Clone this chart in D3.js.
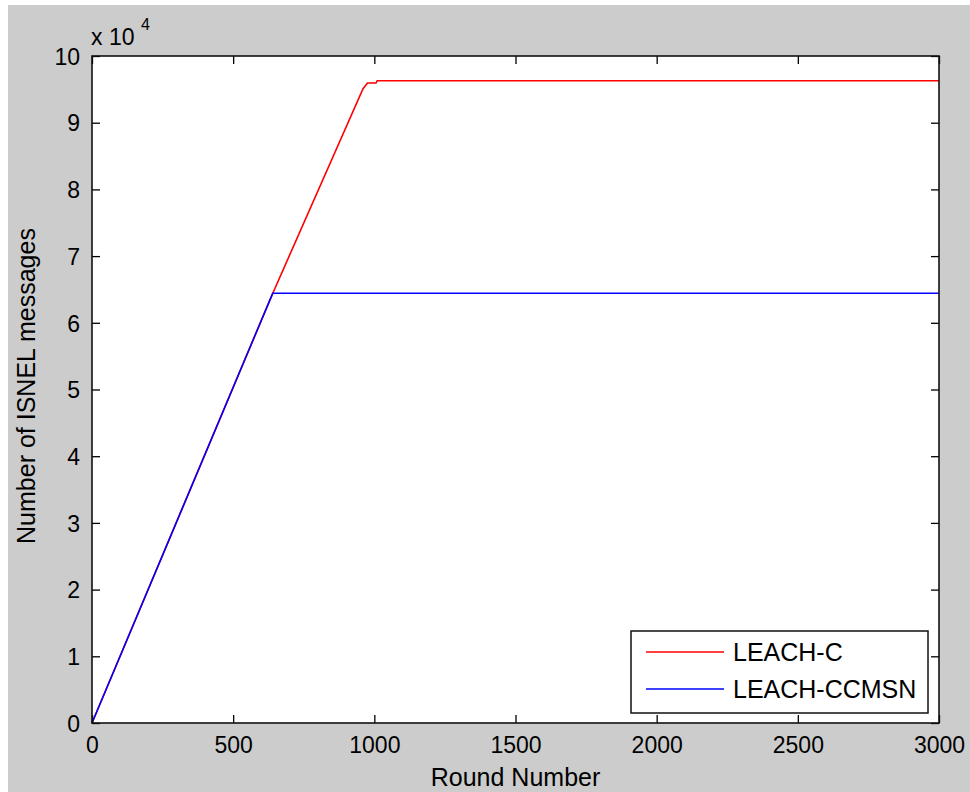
<!DOCTYPE html>
<html>
<head>
<meta charset="utf-8">
<script src="https://cdn.jsdelivr.net/npm/d3@7"></script>
<style>
html,body{margin:0;padding:0;background:#fff;}
svg{display:block;}
text{font-family:"Liberation Sans",Arial,sans-serif;fill:#000;}
</style>
</head>
<body>
<svg id="chart" width="970" height="792"></svg>
<script>
// ---- data ----
const seriesNames = ["LEACH-C", "LEACH-CCMSN"];
const seriesColors = ["#ff0000", "#0000ff"];
const leachCRounds = [0, 640, 960, 976, 1006, 1010, 3000];
const leachCValues = [0, 64400, 95100, 95950, 95950, 96300, 96300];
const ccmsnRounds = [0, 640, 3000];
const ccmsnValues = [0, 64420, 64420];
const xTicks = [0, 500, 1000, 1500, 2000, 2500, 3000];
const yTicks = [0, 10000, 20000, 30000, 40000, 50000, 60000, 70000, 80000, 90000, 100000];
const xLabel = "Round Number";
const yLabel = "Number of ISNEL messages";

const svg = d3.select("#chart");
// figure background (MATLAB grey)
svg.append("rect").attr("x", 8).attr("y", 5).attr("width", 962).attr("height", 787).attr("fill", "#cccccc");

const L = 92, R = 939, T = 56, B = 723;
const x = d3.scaleLinear().domain([0, 3000]).range([L, R]);
const y = d3.scaleLinear().domain([0, 100000]).range([B, T]);

svg.append("rect").attr("x", L).attr("y", T).attr("width", R - L).attr("height", B - T).attr("fill", "#fff");

// data lines
const series = [
  leachCRounds.map((r, i) => [r, leachCValues[i]]),
  ccmsnRounds.map((r, i) => [r, ccmsnValues[i]])
];
const line = d3.line().x(d => x(d[0])).y(d => y(d[1]));
series.forEach((s, i) => {
  svg.append("path").datum(s).attr("d", line).attr("fill", "none")
    .attr("stroke", seriesColors[i]).attr("stroke-width", 1.6);
});

// axes (ticks inward, on all four sides)
const tickLen = 8;
const fmtY = d => String(d / 10000);
const fmtX = d => String(d);
const gB = svg.append("g").attr("transform", `translate(0,${B})`)
  .call(d3.axisBottom(x).tickValues(xTicks).tickFormat(fmtX).tickSizeInner(-tickLen).tickSizeOuter(0).tickPadding(14));
const gT = svg.append("g").attr("transform", `translate(0,${T})`)
  .call(d3.axisTop(x).tickValues(xTicks).tickSizeInner(-tickLen).tickSizeOuter(0).tickFormat(""));
const gL = svg.append("g").attr("transform", `translate(${L},0)`)
  .call(d3.axisLeft(y).tickValues(yTicks).tickFormat(fmtY).tickSizeInner(-tickLen).tickSizeOuter(0).tickPadding(12));
const gR = svg.append("g").attr("transform", `translate(${R},0)`)
  .call(d3.axisRight(y).tickValues(yTicks).tickSizeInner(-tickLen).tickSizeOuter(0).tickFormat(""));
[gB, gT, gL, gR].forEach(g => {
  g.select(".domain").remove();
  g.selectAll(".tick line").attr("stroke", "#000").attr("stroke-width", 1.3);
  g.selectAll("text").attr("font-size", 23).attr("font-family", "Liberation Sans, Arial, sans-serif").attr("fill", "#000");
});
gB.selectAll("text").attr("dy", "0.71em");
gL.selectAll("text").attr("dy", "0.36em");

// box
svg.append("rect").attr("x", L).attr("y", T).attr("width", R - L).attr("height", B - T)
  .attr("fill", "none").attr("stroke", "#111").attr("stroke-width", 1.6);

// exponent label
svg.append("text").attr("x", 91).attr("y", 45).attr("font-size", 23).text("x 10");
svg.append("text").attr("x", 141).attr("y", 30).attr("font-size", 16).text("4");

// axis labels
svg.append("text").attr("x", (L + R) / 2).attr("y", 786).attr("text-anchor", "middle")
  .attr("font-size", 25).text(xLabel);
svg.append("text").attr("transform", `translate(35,386) rotate(-90)`).attr("text-anchor", "middle")
  .attr("font-size", 25).text(yLabel);

// legend
const lg = svg.append("g");
lg.append("rect").attr("x", 631).attr("y", 631).attr("width", 297).attr("height", 82)
  .attr("fill", "#fff").attr("stroke", "#111").attr("stroke-width", 1.5);
const legY = [652, 689];
seriesNames.forEach((n, i) => {
  lg.append("line").attr("x1", 646).attr("x2", 724).attr("y1", legY[i]).attr("y2", legY[i])
    .attr("stroke", seriesColors[i]).attr("stroke-width", 1.5);
  lg.append("text").attr("x", 733).attr("y", legY[i]).attr("dy", "0.36em")
    .attr("font-size", 25).text(n);
});
</script>
</body>
</html>
